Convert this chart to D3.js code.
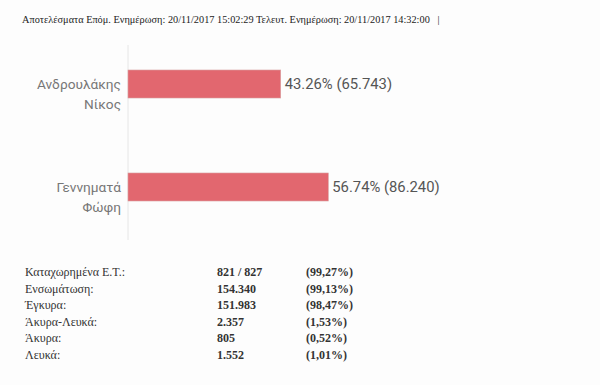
<!DOCTYPE html>
<html lang="el">
<head>
  <meta charset="UTF-8">
  <title>Αποτελέσματα</title>
  <script src="https://d3js.org/d3.v7.min.js"></script>
  <style>
    body { margin: 0; background: #fdfdfd; }
    svg { display: block; }
  </style>
</head>
<body>
  <div id="chart"></div>
  <script>
    // data
    const candidates = ["Ανδρουλάκης Νίκος", "Γεννηματά Φώφη"];
    const percents = [43.26, 56.74];
    const votes = ["65.743", "86.240"];

    const headerText = "Αποτελέσματα Επόμ. Ενημέρωση: 20/11/2017 15:02:29 Τελευτ. Ενημέρωση: 20/11/2017 14:32:00   |";

    const statLabels = ["Καταχωρημένα Ε.Τ.:", "Ενσωμάτωση:", "Έγκυρα:", "Άκυρα-Λευκά:", "Άκυρα:", "Λευκά:"];
    const statValues = ["821 / 827", "154.340", "151.983", "2.357", "805", "1.552"];
    const statPercents = ["(99,27%)", "(99,13%)", "(98,47%)", "(1,53%)", "(0,52%)", "(1,01%)"];

    const W = 600, H = 385;
    const svg = d3.select("#chart").append("svg")
      .attr("width", W).attr("height", H);

    // header line
    svg.append("text")
      .attr("x", 22).attr("y", 23)
      .style("font-family", "'Liberation Serif', serif")
      .style("font-size", "10.3px")
      .attr("fill", "#222")
      .attr("xml:space", "preserve")
      .text(headerText);

    // bar chart
    const x = d3.scaleLinear().domain([0, 100]).range([128, 481]);
    const y = d3.scaleBand().domain(candidates).range([49.4, 221.6]).paddingInner(0.728).paddingOuter(0.2);

    svg.append("line")
      .attr("x1", x(0)).attr("x2", x(0))
      .attr("y1", 45).attr("y2", 240)
      .attr("stroke", "#e6e6e6");

    const g = svg.append("g");

    g.selectAll("rect").data(candidates).join("rect")
      .attr("x", x(0))
      .attr("y", d => y(d))
      .attr("width", (d, i) => x(percents[i]) - x(0))
      .attr("height", y.bandwidth())
      .attr("fill", "#e2676f")
      .attr("stroke", "#d9a0a0")
      .attr("stroke-width", 0.6);

    g.selectAll("text.val").data(candidates).join("text")
      .attr("class", "val")
      .attr("x", (d, i) => x(percents[i]) + 4)
      .attr("y", d => y(d) + y.bandwidth() / 2 + 5)
      .style("font-family", "Roboto, sans-serif")
      .style("font-size", "14.8px")
      .attr("fill", "#555")
      .text((d, i) => `${percents[i].toFixed(2)}% (${votes[i]})`);

    const lab = g.selectAll("text.cat").data(candidates).join("text")
      .attr("class", "cat")
      .attr("text-anchor", "end")
      .style("font-family", "Roboto, sans-serif")
      .style("font-size", "13.7px")
      .attr("fill", "#777");
    lab.each(function (d) {
      const parts = d.split(" ");
      const t = d3.select(this);
      parts.forEach((p, k) => {
        t.append("tspan")
          .attr("x", 121)
          .attr("y", y(d) + y.bandwidth() / 2 + 5 + k * 20)
          .text(p);
      });
    });

    // stats table
    const rowY = d3.scalePoint().domain(statLabels).range([276, 359]);
    const tbl = svg.append("g")
      .style("font-family", "'Liberation Serif', serif")
      .style("font-size", "12px")
      .attr("fill", "#333");

    tbl.selectAll("text.l").data(statLabels).join("text")
      .attr("class", "l")
      .attr("x", 25).attr("y", d => rowY(d))
      .text(d => d);
    tbl.selectAll("text.v").data(statLabels).join("text")
      .attr("class", "v")
      .attr("x", 217).attr("y", d => rowY(d))
      .style("font-weight", "bold")
      .text((d, i) => statValues[i]);
    tbl.selectAll("text.p").data(statLabels).join("text")
      .attr("class", "p")
      .attr("x", 306).attr("y", d => rowY(d))
      .style("font-weight", "bold")
      .text((d, i) => statPercents[i]);
  </script>
</body>
</html>
